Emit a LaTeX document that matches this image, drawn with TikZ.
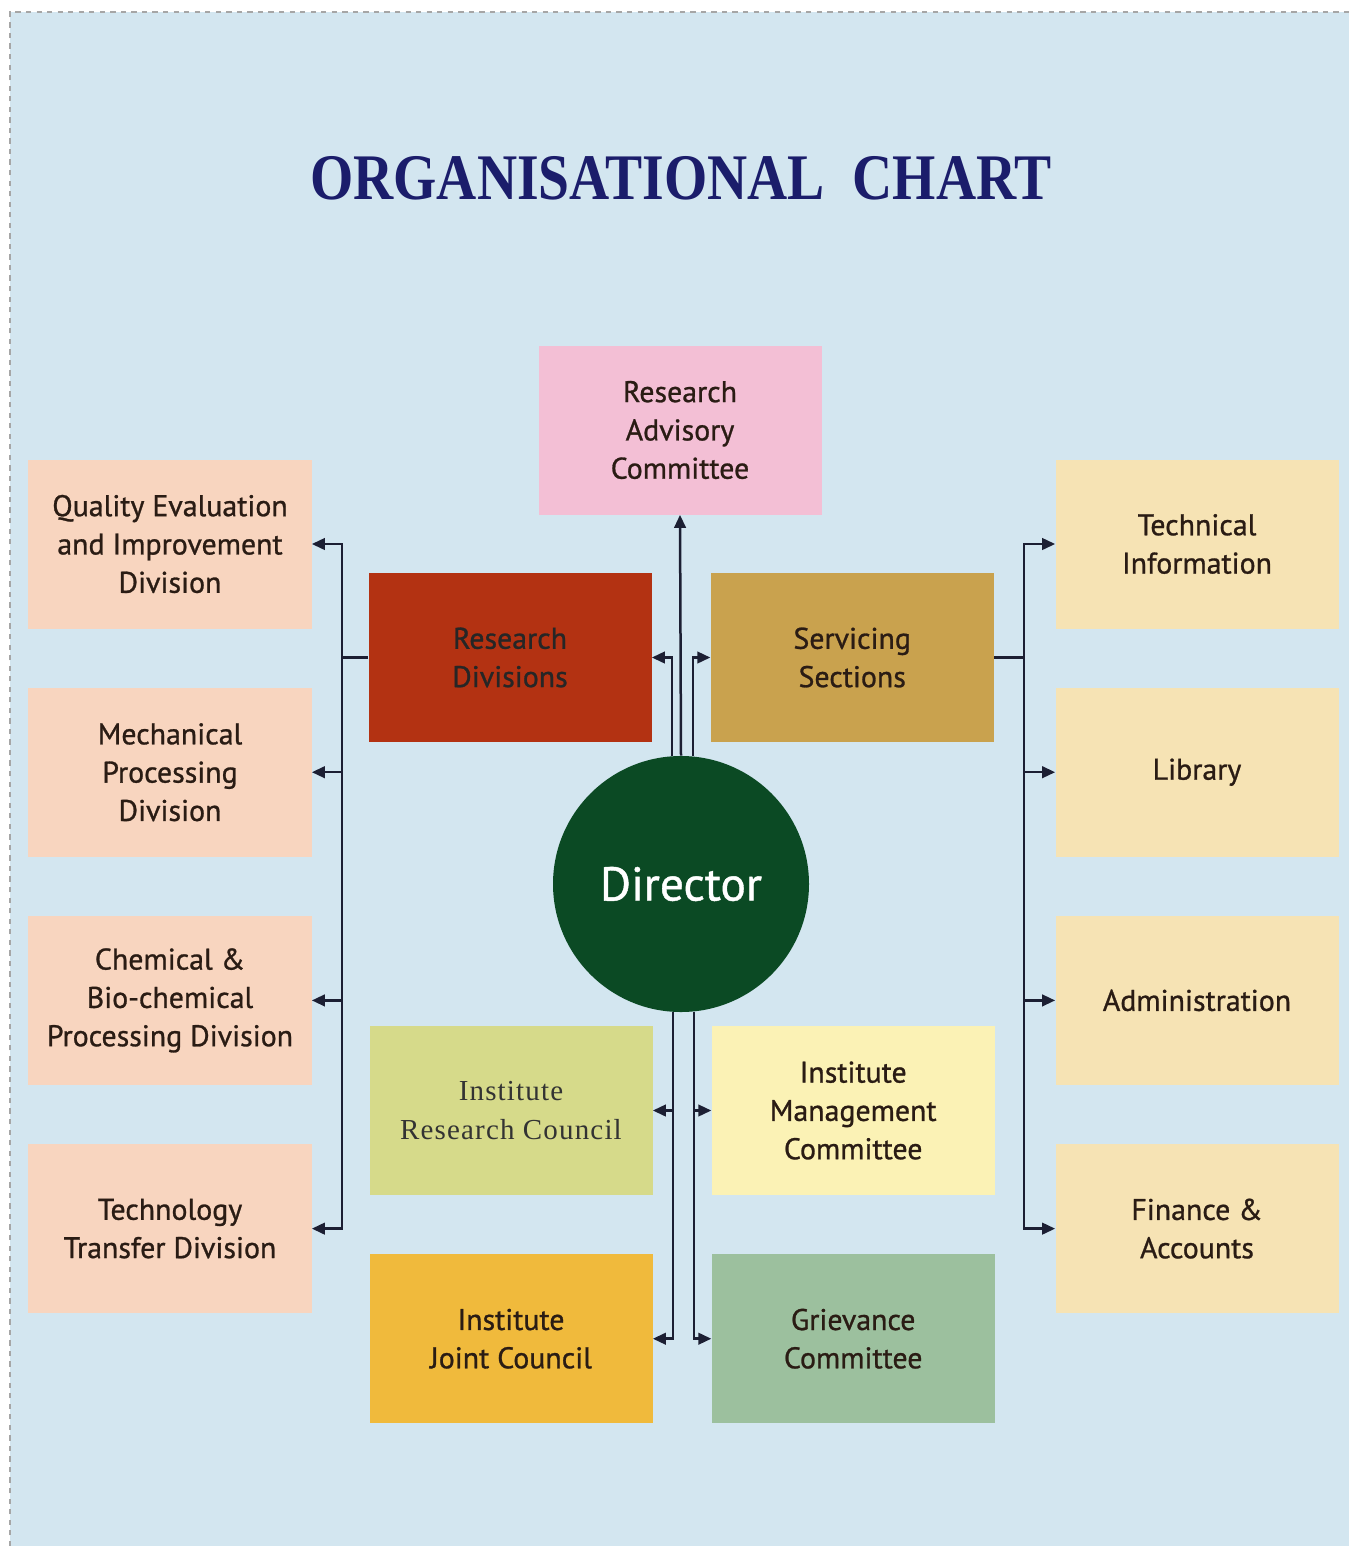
\documentclass[tikz,border=0pt]{standalone}
\usepackage{fontspec}
\setmainfont[FakeBold=0.9]{PT Sans}
\newfontfamily\titlefont[FakeStretch=0.855]{Liberation Serif}
\newfontfamily\councilfont[LetterSpace=4]{Liberation Serif}
\usepackage{xcolor}
\usepackage{tikz}
\usetikzlibrary{
    arrows.meta,
    positioning,
    calc
}
\definecolor{paper}{HTML}{D3E6F0}
\definecolor{inkline}{HTML}{1C1F33}
\definecolor{navytitle}{HTML}{1B1D6B}
\definecolor{racpink}{HTML}{F3BFD5}
\definecolor{divpeach}{HTML}{F8D5BF}
\definecolor{secream}{HTML}{F6E3B4}
\definecolor{rdred}{HTML}{B33212}
\definecolor{sstan}{HTML}{C9A24E}
\definecolor{ircgreen}{HTML}{D6DA8A}
\definecolor{imcyellow}{HTML}{FBF2B5}
\definecolor{ijcorange}{HTML}{F0BA3C}
\definecolor{gcsage}{HTML}{9CC09E}
\definecolor{dirgreen}{HTML}{0B4A24}
\definecolor{boxtext}{HTML}{2A1C14}
\tikzset{
    unit/.style={
        rectangle,
        align=center,
        minimum height=33.8mm,
        minimum width=56.6mm,
        inner sep=2pt,
        text=boxtext,
        font=\fontsize{17}{21.8}\selectfont
    },
    councilunit/.style={
        unit,
        text=black!80,
        font=\councilfont\fontsize{16.5}{21.8}\selectfont
    },
    head/.style={
        circle,
        fill=dirgreen,
        minimum size=51.2mm,
        inner sep=0pt,
        text=white,
        font=\fontsize{27}{30}\selectfont
    },
    arrow/.style={
        -{Triangle[length=2.6mm,width=2.3mm]},
        line width=0.5mm,
        draw=inkline
    },
    link/.style={
        line width=0.5mm,
        draw=inkline
    }
}

\begin{document}
\begin{tikzpicture}[x=0.2mm, y=-0.2mm, node distance=11.7mm]

\useasboundingbox (0,0) rectangle (1349,1546);
\fill[paper] (10,12) rectangle (1349,1546);
\draw[gray!70, dashed, line width=0.3mm] (10,1546) -- (10,12) -- (1349,12);

\node[text=navytitle, font=\titlefont\bfseries\fontsize{37}{40}\selectfont]
    (title) at (681,178) {ORGANISATIONAL\ \ CHART};

% top and centre
\node[unit, fill=racpink] (rac) at (680,430) {Research\\Advisory\\Committee};
\node[unit, fill=rdred, text=black!85] (rd) at (510,657.5) {Research\\Divisions};
\node[unit, fill=sstan, right=of rd] (ss) {Servicing\\Sections};
\node[head] (dir) at (681,884) {Director};
\node[councilunit, fill=ircgreen] (irc) at (511,1110.5) {Institute\\Research Council};
\node[unit, fill=imcyellow, right=of irc] (imc) {Institute\\Management\\Committee};
\node[unit, fill=ijcorange, below=of irc] (ijc) {Institute\\Joint Council};
\node[unit, fill=gcsage, below=of imc] (gc) {Grievance\\Committee};

% research divisions
\node[unit, fill=divpeach] (qeid) at (170,544) {Quality Evaluation\\and Improvement\\Division};
\node[unit, fill=divpeach, below=of qeid] (mpd) {Mechanical\\Processing\\Division};
\node[unit, fill=divpeach, below=of mpd] (cbpd) {Chemical \&\\Bio-chemical\\Processing Division};
\node[unit, fill=divpeach, below=of cbpd] (ttd) {Technology\\Transfer Division};

% servicing sections
\node[unit, fill=secream] (tis) at (1197,544) {Technical\\Information};
\node[unit, fill=secream, below=of tis] (lib) {Library};
\node[unit, fill=secream, below=of lib] (adm) {Administration};
\node[unit, fill=secream, below=of adm] (fin) {Finance \&\\Accounts};

\coordinate (lbus) at (342,657.5);
\coordinate (rbus) at (1024,657.5);

\draw[arrow] (dir.north) -- (rac.south);
\draw[arrow] ([xshift=-1.8mm]dir.north) |- (rd.east);
\draw[arrow] ([xshift=2.4mm]dir.north) |- (ss.west);
\draw[arrow] ([xshift=-1.6mm]dir.south) |- (irc.east);
\draw[arrow] ([xshift=-1.6mm]dir.south) |- (ijc.east);
\draw[arrow] ([xshift=2.6mm]dir.south) |- (imc.west);
\draw[arrow] ([xshift=2.6mm]dir.south) |- (gc.west);

\draw[link] (rd.west) -- (lbus);
\draw[arrow] (lbus) |- (qeid.east);
\draw[arrow] (lbus) |- (mpd.east);
\draw[arrow] (lbus) |- (cbpd.east);
\draw[arrow] (lbus) |- (ttd.east);

\draw[link] (ss.east) -- (rbus);
\draw[arrow] (rbus) |- (tis.west);
\draw[arrow] (rbus) |- (lib.west);
\draw[arrow] (rbus) |- (adm.west);
\draw[arrow] (rbus) |- (fin.west);

\end{tikzpicture}
\end{document}
